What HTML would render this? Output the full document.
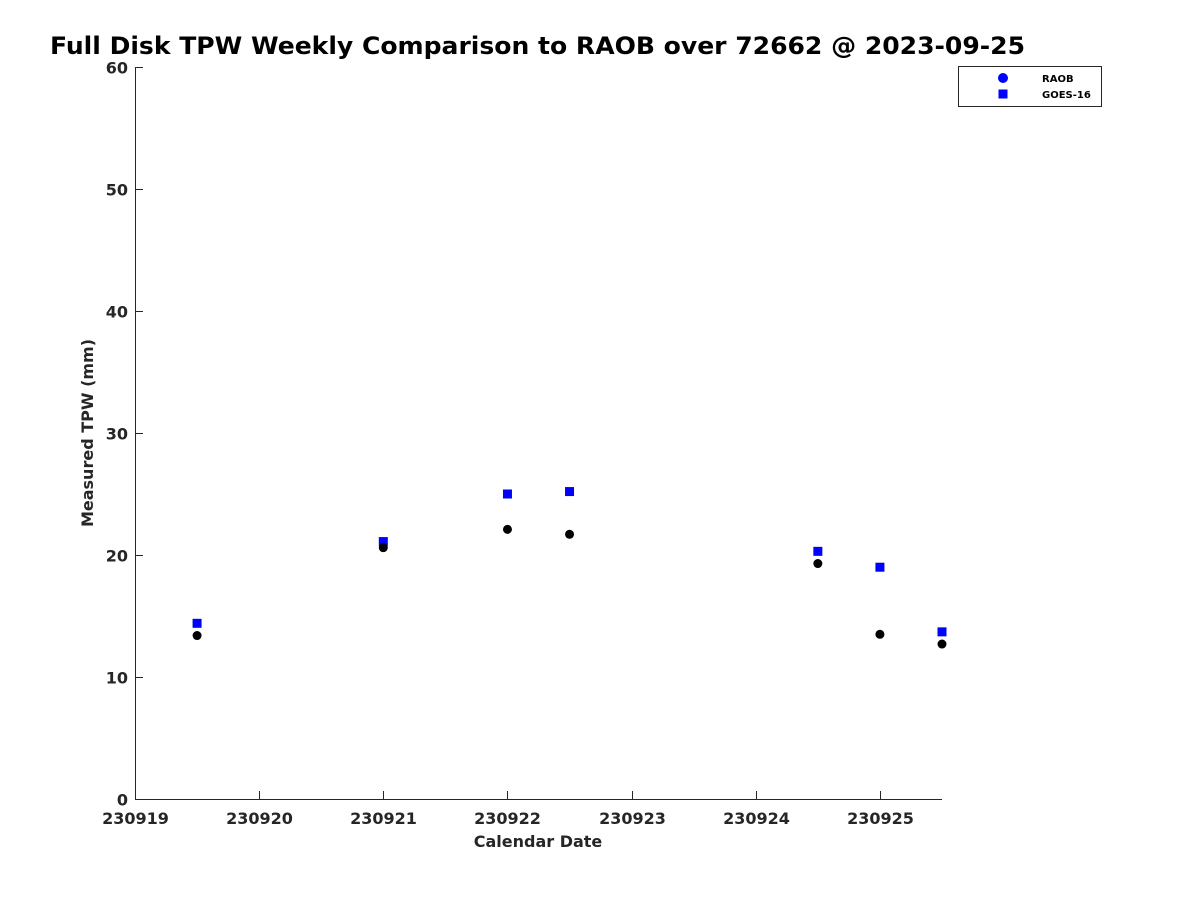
<!DOCTYPE html>
<html><head><meta charset="utf-8"><style>
body{margin:0;background:#fff;}
svg{display:block;font-family:"DejaVu Sans","Liberation Sans",sans-serif;}
</style></head><body>
<svg id="chart" width="1200" height="900" xmlns="http://www.w3.org/2000/svg">
<text x="50" y="54" font-size="24" font-weight="bold" fill="#000" textLength="975" lengthAdjust="spacingAndGlyphs">Full Disk TPW Weekly Comparison to RAOB over 72662 @ 2023-09-25</text>
<g id="axes"></g>
<g id="marks"></g>
<text x="538" y="847" font-size="16" font-weight="bold" fill="#262626" text-anchor="middle">Calendar Date</text>
<text transform="translate(93,433) rotate(-90)" font-size="16" font-weight="bold" fill="#262626" text-anchor="middle">Measured TPW (mm)</text>
<g>
<rect x="958.5" y="66.5" width="143" height="40" fill="#fff" stroke="#262626" stroke-width="1"/>
<circle cx="1003" cy="78" r="5" fill="#0000ff"/>
<text x="1042" y="82" font-size="10" font-weight="bold" fill="#000">RAOB</text>
<rect x="998.5" y="89.5" width="9" height="9" fill="#0000ff"/>
<text x="1042" y="98" font-size="10" font-weight="bold" fill="#000">GOES-16</text>
</g>
</svg>
<script>
const xTickLabels=["230919","230920","230921","230922","230923","230924","230925"];
const yTicks=[0,10,20,30,40,50,60];
const dayOffsets=[0.5,2.0,3.0,3.5,5.5,6.0,6.5];
const raobValues=[13.4,20.6,22.1,21.7,19.3,13.5,12.7];
const goesValues=[14.4,21.1,25.0,25.2,20.3,19.0,13.7];
const NS="http://www.w3.org/2000/svg";
const L=135,R=942,T=67,B=799,XMAX=6.5,YMAX=60;
const xs=d=>L+d/XMAX*(R-L);
const ys=v=>B-v/YMAX*(B-T);
const axes=document.getElementById('axes'),marks=document.getElementById('marks');
function mk(tag,attrs,parent){const e=document.createElementNS(NS,tag);for(const k in attrs)e.setAttribute(k,attrs[k]);parent.appendChild(e);return e;}
let e=mk('line',{x1:L+0.5,y1:T,x2:L+0.5,y2:B+0.5,stroke:'#262626'},axes);


e=mk('line',{x1:L,y1:B+0.5,x2:R,y2:B+0.5,stroke:'#262626'},axes);


xTickLabels.forEach((lab,i)=>{
 const x=Math.round(xs(i))+0.5;
 let t=mk('line',{x1:x,y1:B,x2:x,y2:B-8,stroke:'#262626'},axes);
 
 
 let tx=mk('text',{x:x,y:824,'font-size':16,'font-weight':'bold',fill:'#262626','text-anchor':'middle'},axes);
 tx.textContent=lab;
 
 
});
yTicks.forEach(v=>{
 const y=Math.round(ys(v))+0.5;
 let t=mk('line',{x1:L,y1:y,x2:L+8,y2:y,stroke:'#262626'},axes);
 
 
 let tx=mk('text',{x:128,y:y+6,'font-size':16,'font-weight':'bold',fill:'#262626','text-anchor':'end'},axes);
 tx.textContent=v;
 
 
});
dayOffsets.forEach((d,i)=>{
 let s=mk('rect',{x:xs(d)-4.5,y:ys(goesValues[i])-4.5,width:9,height:9,fill:'#0000ff'},marks);
 
 
 let c=mk('circle',{cx:xs(d),cy:ys(raobValues[i]),r:4.5,fill:'#000'},marks);
 
 
});
</script>
</body></html>
